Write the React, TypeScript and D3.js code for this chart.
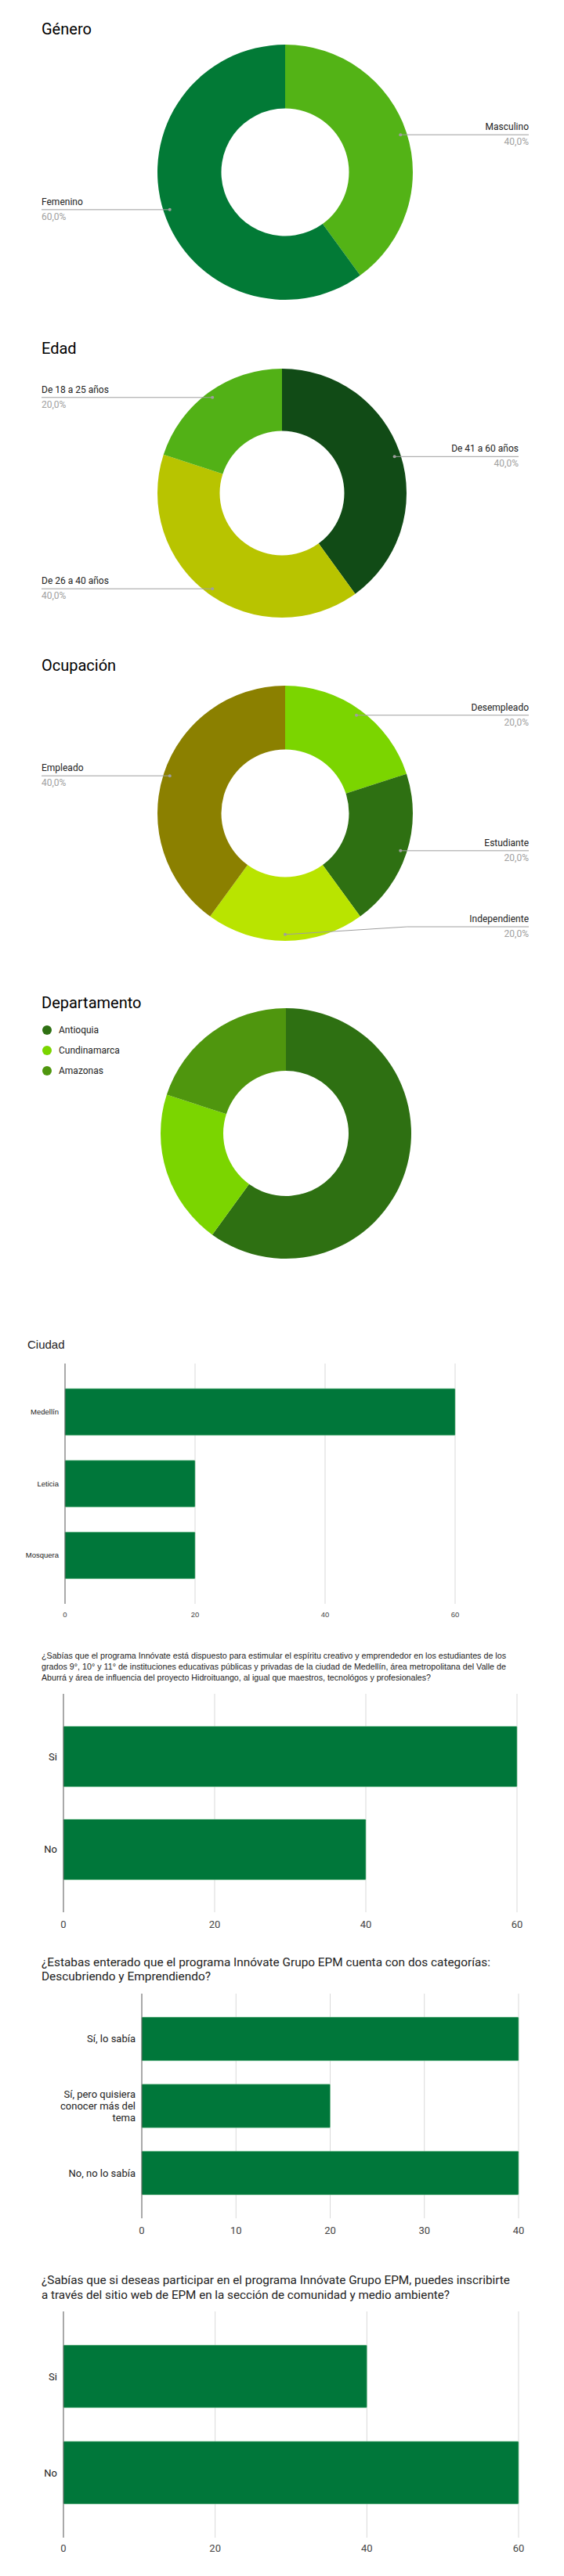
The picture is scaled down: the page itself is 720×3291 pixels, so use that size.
import React from 'react';
import * as d3 from 'd3';

// ---- data ----
const generoLabels = ['Masculino', 'Femenino'];
const generoValues = [40, 60];
const generoColors = ['#53b316', '#027a36'];

const edadLabels = ['De 41 a 60 años', 'De 26 a 40 años', 'De 18 a 25 años'];
const edadValues = [40, 40, 20];
const edadColors = ['#114b16', '#b8c400', '#52b116'];

const ocupacionLabels = ['Desempleado', 'Estudiante', 'Independiente', 'Empleado'];
const ocupacionValues = [20, 20, 20, 40];
const ocupacionColors = ['#7bd500', '#2e7012', '#b9e400', '#8b8000'];

const departamentoLabels = ['Antioquia', 'Cundinamarca', 'Amazonas'];
const departamentoValues = [60, 20, 20];
const departamentoColors = ['#2e7012', '#7bd500', '#4f960e'];

const ciudadLabels = ['Medellín', 'Leticia', 'Mosquera'];
const ciudadValues = [60, 20, 20];
const ciudadTicks = [0, 20, 40, 60];

const programaTitle = [
  '¿Sabías que el programa Innóvate está dispuesto para estimular el espíritu creativo y emprendedor en los estudiantes de los',
  'grados 9°, 10° y 11° de instituciones educativas públicas y privadas de la ciudad de Medellín, área metropolitana del Valle de',
  'Aburrá y área de influencia del proyecto Hidroituango, al igual que maestros, tecnológos y profesionales?',
];
const programaLabels = ['Si', 'No'];
const programaValues = [60, 40];
const programaTicks = [0, 20, 40, 60];

const categoriasTitle = [
  '¿Estabas enterado que el programa Innóvate Grupo EPM cuenta con dos categorías:',
  'Descubriendo y Emprendiendo?',
];
const categoriasLabels = ['Sí, lo sabía', 'Sí, pero quisiera conocer más del tema', 'No, no lo sabía'];
const categoriasValues = [40, 20, 40];
const categoriasTicks = [0, 10, 20, 30, 40];

const inscripcionTitle = [
  '¿Sabías que si deseas participar en el programa Innóvate Grupo EPM, puedes inscribirte',
  'a través del sitio web de EPM en la sección de comunidad y medio ambiente?',
];
const inscripcionLabels = ['Si', 'No'];
const inscripcionValues = [40, 60];
const inscripcionTicks = [0, 20, 40, 60];

const ROBOTO = 'Roboto, Arial, sans-serif';
const ARIAL = '"Liberation Sans", Arial, sans-serif';
const BAR = '#00773a';

const fmtPct = (v: number, total: number) => ((v / total) * 100).toFixed(1).replace('.', ',') + '%';

interface DonutProps {
  title: string;
  titleY: number;
  labels: string[];
  values: number[];
  colors: string[];
  cx: number;
  cy: number;
  r: number;
  rightEdge?: number;
  legend?: boolean;
}

const Donut: React.FC<DonutProps> = ({ title, titleY, labels, values, colors, cx, cy, r, rightEdge = 675, legend }) => {
  const pie = d3.pie<number>().sort(null).value(d => d);
  const arcs = pie(values);
  const arc = d3.arc<d3.PieArcDatum<number>>().innerRadius(r * 0.5).outerRadius(r);
  const total = d3.sum(values);
  const leftEdge = 53;

  return (
    <g>
      <text x={53} y={titleY} fontFamily={ROBOTO} fontSize={20} fill="#000">{title}</text>
      <g transform={`translate(${cx},${cy})`}>
        {arcs.map((a, i) => (
          <path key={i} d={arc(a) || ''} fill={colors[i]} />
        ))}
      </g>
      {legend
        ? labels.map((l, i) => (
            <g key={i}>
              <circle cx={60} cy={titleY + 28 + i * 26} r={6} fill={colors[i]} />
              <text x={75} y={titleY + 32 + i * 26} fontFamily={ROBOTO} fontSize={12} fill="#222">{l}</text>
            </g>
          ))
        : arcs.map((a, i) => {
            const mid = (a.startAngle + a.endAngle) / 2;
            const dx = cx + Math.sin(mid) * r * 0.95;
            const dy = cy - Math.cos(mid) * r * 0.95;
            const right = Math.sin(mid) > -1e-6;
            const ly = Math.min(dy, cy + r - 18);
            const edge = right ? rightEdge : leftEdge;
            const bend = (dx + edge) / 2;
            const pts = ly === dy ? `${dx},${dy} ${edge},${ly}` : `${dx},${dy} ${bend},${ly} ${edge},${ly}`;
            return (
              <g key={i}>
                <polyline points={pts} fill="none" stroke="#9e9e9e" strokeWidth={1} />
                <circle cx={dx} cy={dy} r={2} fill="#9e9e9e" />
                <text x={edge} y={ly - 6} textAnchor={right ? 'end' : 'start'} fontFamily={ROBOTO} fontSize={12} fill="#222">
                  {labels[i]}
                </text>
                <text x={edge} y={ly + 13} textAnchor={right ? 'end' : 'start'} fontFamily={ROBOTO} fontSize={12} fill="#a0a0a0">
                  {fmtPct(values[i], total)}
                </text>
              </g>
            );
          })}
    </g>
  );
};

const wrap = (s: string, max: number) => {
  const out: string[] = [];
  let cur = '';
  s.split(' ').forEach(w => {
    const next = cur ? cur + ' ' + w : w;
    if (next.length > max && cur) {
      out.push(cur);
      cur = w;
    } else cur = next;
  });
  if (cur) out.push(cur);
  return out;
};

interface BarProps {
  title: string[];
  titleX: number;
  titleY: number;
  titleStep: number;
  titleSize: number;
  titleFont: string;
  titleWidths?: number[];
  labels: string[];
  values: number[];
  ticks: number[];
  x0: number;
  x1: number;
  top: number;
  bottom: number;
  font: string;
  fontSize: number;
  tickY: number;
}

const BarChart: React.FC<BarProps> = p => {
  const x = d3.scaleLinear().domain([0, p.ticks[p.ticks.length - 1]]).range([p.x0, p.x1]);
  const y = d3.scaleBand<string>().domain(p.labels).range([p.top, p.bottom]).padding(0.35);
  const lh = p.fontSize + 2;
  return (
    <g>
      {p.title.map((t, i) => (
        <text
          key={i}
          x={p.titleX}
          y={p.titleY + i * p.titleStep}
          fontFamily={p.titleFont}
          fontSize={p.titleSize}
          fill="#222"
          textLength={p.titleWidths ? p.titleWidths[i] : undefined}
          lengthAdjust="spacingAndGlyphs"
        >
          {t}
        </text>
      ))}
      {p.ticks.slice(1).map(t => (
        <line key={t} x1={x(t)} x2={x(t)} y1={p.top} y2={p.bottom} stroke="#d9d9d9" strokeWidth={1} />
      ))}
      {p.labels.map((l, i) => (
        <rect
          key={l}
          x={x(0)}
          y={y(l)}
          width={x(p.values[i]) - x(0)}
          height={y.bandwidth()}
          fill={BAR}
          stroke="#7cc495"
          strokeWidth={0.6}
          rx={1}
        />
      ))}
      <line x1={x(0)} x2={x(0)} y1={p.top} y2={p.bottom} stroke="#555" strokeWidth={1} />
      {p.ticks.map(t => (
        <text key={t} x={x(t)} y={p.tickY} textAnchor="middle" fontFamily={p.font} fontSize={p.fontSize} fill="#444">
          {t}
        </text>
      ))}
      {p.labels.map(l => {
        const lines = wrap(l, 17);
        const c = (y(l) || 0) + y.bandwidth() / 2 + p.fontSize * 0.35;
        return (
          <text key={l} x={p.x0 - 8} y={c - ((lines.length - 1) * lh) / 2} textAnchor="end" fontFamily={p.font} fontSize={p.fontSize} fill="#222">
            {lines.map((ln, j) => (
              <tspan key={j} x={p.x0 - 8} dy={j === 0 ? 0 : lh}>{ln}</tspan>
            ))}
          </text>
        );
      })}
    </g>
  );
};

export default function App() {
  return (
    <svg
      width={720}
      height={3291}
      viewBox="0 0 720 3291"
      style={{ position: 'absolute', left: 0, top: 0, background: '#fff' }}
    >
      <rect width={720} height={3291} fill="#fff" />
      <Donut title="Género" titleY={44} labels={generoLabels} values={generoValues} colors={generoColors} cx={364} cy={220} r={163} />
      <Donut title="Edad" titleY={452} labels={edadLabels} values={edadValues} colors={edadColors} cx={360} cy={630} r={159} rightEdge={662} />
      <Donut title="Ocupación" titleY={857} labels={ocupacionLabels} values={ocupacionValues} colors={ocupacionColors} cx={364} cy={1039} r={163} />
      <Donut title="Departamento" titleY={1288} labels={departamentoLabels} values={departamentoValues} colors={departamentoColors} cx={365} cy={1448} r={160} legend />

      <BarChart
        title={['Ciudad']}
        titleX={35}
        titleY={1723}
        titleStep={0}
        titleSize={15}
        titleFont={ARIAL}
        labels={ciudadLabels}
        values={ciudadValues}
        ticks={ciudadTicks}
        x0={83}
        x1={581}
        top={1742}
        bottom={2049}
        font={ARIAL}
        fontSize={9.5}
        tickY={2066}
      />
      <BarChart
        title={programaTitle}
        titleX={53}
        titleY={2119}
        titleStep={14}
        titleSize={10.5}
        titleFont={ARIAL}
        titleWidths={[593, 593, 497]}
        labels={programaLabels}
        values={programaValues}
        ticks={programaTicks}
        x0={81}
        x1={660}
        top={2164}
        bottom={2443}
        font={ROBOTO}
        fontSize={13}
        tickY={2463}
      />
      <BarChart
        title={categoriasTitle}
        titleX={53}
        titleY={2512}
        titleStep={18}
        titleSize={15}
        titleFont={ROBOTO}
        titleWidths={[573, 216]}
        labels={categoriasLabels}
        values={categoriasValues}
        ticks={categoriasTicks}
        x0={181}
        x1={662}
        top={2547}
        bottom={2834}
        font={ROBOTO}
        fontSize={13}
        tickY={2854}
      />
      <BarChart
        title={inscripcionTitle}
        titleX={53}
        titleY={2918}
        titleStep={19}
        titleSize={15}
        titleFont={ROBOTO}
        titleWidths={[598, 521]}
        labels={inscripcionLabels}
        values={inscripcionValues}
        ticks={inscripcionTicks}
        x0={81}
        x1={662}
        top={2953}
        bottom={3242}
        font={ROBOTO}
        fontSize={13}
        tickY={3260}
      />
    </svg>
  );
}
